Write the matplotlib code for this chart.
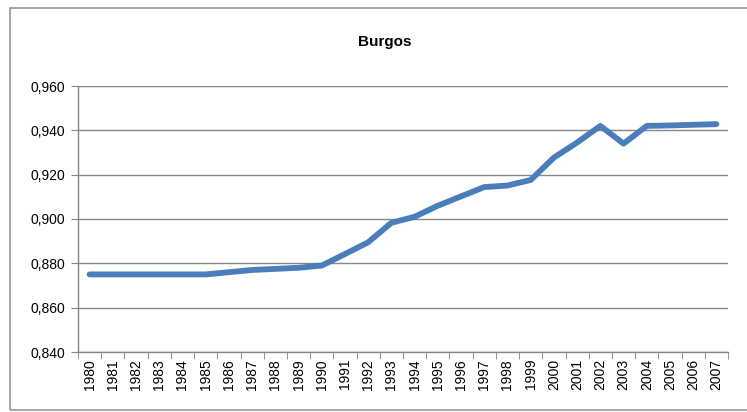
import matplotlib
matplotlib.use("Agg")
import matplotlib.pyplot as plt
from matplotlib.patches import Rectangle
from matplotlib.ticker import FixedLocator, FuncFormatter

years = [str(y) for y in range(1980, 2008)]
values = [0.875, 0.875, 0.875, 0.875, 0.875, 0.875, 0.876, 0.877, 0.8775, 0.878,
          0.879, 0.8842, 0.8895, 0.8983, 0.9010, 0.9060, 0.9102, 0.9144, 0.9151, 0.9176,
          0.9277, 0.9345, 0.9420, 0.9340, 0.9420, 0.9422, 0.9425, 0.9428]
yticks = [0.840, 0.860, 0.880, 0.900, 0.920, 0.940, 0.960]

plt.rcParams['font.family'] = ['Liberation Sans', 'DejaVu Sans']

W, H = 747, 412
fig = plt.figure(figsize=(W / 100, H / 100), dpi=100)
fig.patches.append(Rectangle((10 / W, 2 / H), 745 / W, 402 / H, transform=fig.transFigure,
                             fill=False, edgecolor='#969696', linewidth=1.2))
ax = fig.add_axes([78 / W, 60 / H, 650 / W, 266 / H])

x = list(range(len(years)))
ax.plot(x, values, color='#4A7EBB', linewidth=4.2, solid_capstyle='round',
        solid_joinstyle='round', zorder=3)

ax.set_xlim(-0.5, len(years) - 0.5)
ax.set_ylim(0.840, 0.960)
ax.set_yticks(yticks)
ax.yaxis.set_major_formatter(FuncFormatter(lambda v, p: f"{v:.3f}".replace('.', ',')))
ax.set_xticks(x)
ax.set_xticklabels(years, rotation=90, fontsize=10)
ax.xaxis.set_minor_locator(FixedLocator([i - 0.5 for i in range(len(years) + 1)]))
ax.tick_params(axis='x', which='major', length=0, pad=5)
ax.tick_params(axis='x', which='minor', length=5, color='#868686', direction='out')
ax.tick_params(axis='y', length=5, color='#868686', labelsize=10, pad=4)
ax.grid(axis='y', color='#868686', linewidth=1.0)
ax.set_axisbelow(True)
for s in ['top', 'right']:
    ax.spines[s].set_visible(False)
for s in ['left', 'bottom']:
    ax.spines[s].set_color('#868686')
    ax.spines[s].set_linewidth(1.0)

fig.text(385 / W, 1 - 42 / H, 'Burgos', ha='center', va='center', fontsize=11, fontweight='bold')

fig.savefig('out.png', dpi=100)
